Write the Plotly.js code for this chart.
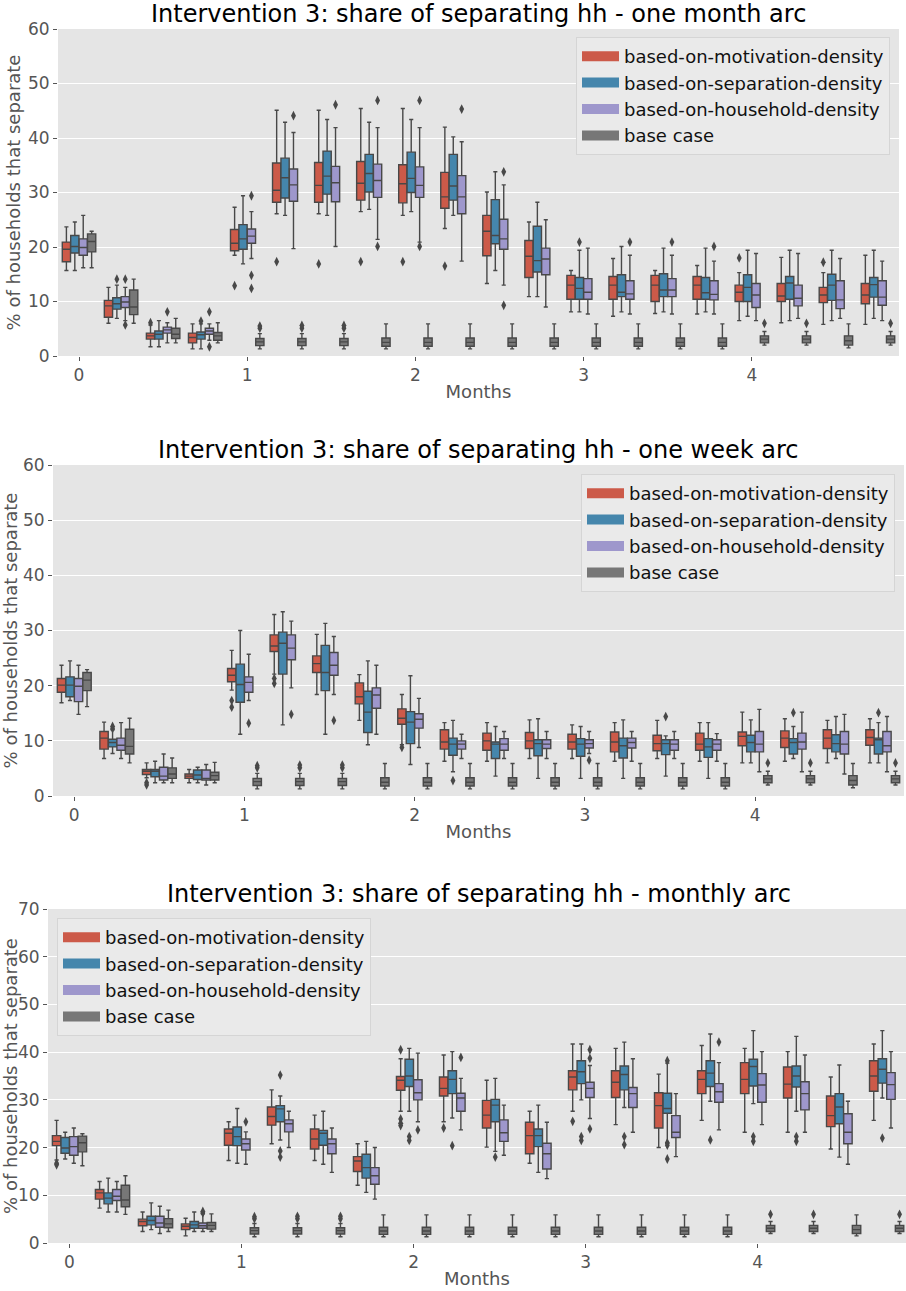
<!DOCTYPE html>
<html><head><meta charset="utf-8">
<script src="https://cdn.plot.ly/plotly-3.0.1.min.js"></script>
<style>html,body{margin:0;padding:0;background:#fff}</style>
</head><body><div id="chart" style="width:906px;height:1291px"></div>
<script>
// ---------- categories / ticks ----------
const steps = [0,1,2,3,4,5,6,7,8,9,10,11,12,13,14,15,16,17,18,19];
const monthTickSteps = [0,4,8,12,16];
const monthTickLabels = ['0','1','2','3','4'];
const seriesNames = ['based-on-motivation-density','based-on-separation-density','based-on-household-density','base case'];
const panelTitles = [
  'Intervention 3: share of separating hh - one month arc',
  'Intervention 3: share of separating hh - one week arc',
  'Intervention 3: share of separating hh - monthly arc'
];

// ---------- base case (shared) ----------
const base_lo  = [16.2,6.0,2.4,2.4,1.3,1.3,1.3,1.3,1.3,1.3,1.3,1.3,1.3,1.3,1.3,1.3,2.0,2.0,1.5,2.0];
const base_q1  = [19.1,7.6,3.2,2.9,1.9,1.9,1.9,1.8,1.8,1.8,1.8,1.8,1.8,1.8,1.8,1.8,2.4,2.4,2.0,2.4];
const base_med = [21.0,9.0,4.0,3.7,2.6,2.6,2.6,2.5,2.5,2.5,2.5,2.5,2.5,2.5,2.5,2.5,3.1,3.1,2.8,3.1];
const base_q3  = [22.4,12.1,5.1,4.3,3.2,3.2,3.2,3.3,3.3,3.3,3.3,3.3,3.3,3.3,3.3,3.3,3.7,3.7,3.7,3.7];
const base_hi  = [22.9,14.1,6.9,6.1,4.1,4.1,4.1,5.9,5.9,5.9,5.9,5.9,5.9,5.9,5.9,5.9,4.5,4.5,5.9,4.5];
const base_out = [[4,5.1],[4,5.5],[5,5.1],[5,5.6],[6,5.1],[6,5.6],[16,6.0],[17,6.0],[19,6.0]];

// ---------- panel 1: one month arc ----------
const p1_mot_lo  = [15.7,6.0,1.7,1.3,18.5,26.1,26.1,26.5,25.8,23.4,13.3,10.9,8.1,7.3,7.8,7.7,6.5,6.1,5.8,5.8];
const p1_mot_q1  = [17.3,7.1,3.1,2.4,19.3,28.2,28.2,28.6,28.1,27.1,18.4,14.4,10.4,10.4,10.0,10.4,10.0,10.0,9.8,9.6];
const p1_mot_med = [19.6,9.2,3.7,3.4,20.7,30.4,31.3,31.7,31.6,29.2,22.9,18.3,13.0,13.0,13.0,13.0,11.7,11.0,11.2,11.2];
const p1_mot_q3  = [20.9,10.2,4.2,4.2,23.2,35.4,35.5,35.7,35.1,33.7,25.8,21.2,14.8,14.6,14.8,14.6,13.0,13.3,12.6,13.3];
const p1_mot_hi  = [23.7,12.6,5.7,5.9,27.3,45.1,45.1,45.4,45.4,42.0,30.1,24.6,15.7,17.9,15.7,16.6,15.3,18.1,15.3,18.5];
const p1_mot_out = [[2,6.1],[4,12.9],[5,17.3],[6,16.9],[7,17.3],[8,17.3],[9,16.5],[16,18.0],[18,17.2]];

const p1_sep_lo  = [15.7,6.9,1.7,1.3,16.9,25.8,25.8,26.9,26.5,25.8,15.7,10.9,8.1,8.1,8.1,8.1,7.3,6.5,6.5,6.9];
const p1_sep_q1  = [18.9,8.6,3.1,3.1,19.6,29.0,29.7,30.1,30.0,28.6,20.6,15.4,10.4,10.9,10.9,10.4,10.0,10.4,10.2,10.8];
const p1_sep_med = [20.1,9.6,4.0,3.9,21.5,32.7,33.0,33.5,32.6,31.2,22.1,17.5,12.4,11.7,12.1,11.6,12.6,13.4,13.0,13.1];
const p1_sep_q3  = [22.1,10.7,4.6,4.4,24.1,36.3,37.6,37.0,37.4,37.0,28.7,23.8,14.4,14.9,15.1,14.4,14.9,14.6,15.0,14.4];
const p1_sep_hi  = [24.6,13.0,6.5,5.9,29.4,42.9,43.4,42.9,43.4,40.2,33.8,28.2,19.4,20.1,19.8,19.8,19.4,19.4,19.4,19.4];
const p1_sep_out = [[1,14.1],[3,6.4],[12,20.9]];

const p1_hh_lo  = [16.2,6.5,2.4,2.9,17.9,19.7,20.1,21.4,20.9,17.4,13.0,9.0,7.7,7.7,7.7,7.7,6.5,6.9,6.9,6.5];
const p1_hh_q1  = [18.5,8.9,4.2,4.0,20.7,28.4,28.3,29.1,29.1,26.1,19.6,14.9,10.4,10.4,10.9,10.3,8.9,9.2,8.7,9.3];
const p1_hh_med = [19.9,9.9,4.8,4.6,22.0,31.4,31.8,32.2,31.3,29.2,21.5,17.8,11.7,11.4,12.1,11.3,11.2,10.6,10.3,10.8];
const p1_hh_q3  = [21.5,10.9,5.3,5.1,23.3,34.3,34.8,35.2,34.7,33.1,25.1,19.8,14.2,13.8,14.2,13.8,13.3,13.0,13.8,13.8];
const p1_hh_hi  = [25.8,12.6,6.1,5.9,26.5,41.0,41.9,41.9,41.9,39.3,31.4,25.0,19.8,18.5,18.5,17.4,18.8,18.8,17.9,17.4];
const p1_hh_out = [[1,14.1],[1,5.7],[2,8.1],[3,8.1],[3,1.7],[4,29.4],[4,14.8],[4,12.4],[5,44.1],[6,46.1],[7,46.9],[7,20.1],[8,46.9],[8,20.1],[9,45.3],[10,33.8],[10,9.3],[13,20.9],[14,20.9],[15,20.1]];

// ---------- panel 2: one week arc ----------
const p2_mot_lo  = [16.9,6.8,3.3,2.4,19.2,22.1,18.4,13.7,9.3,6.3,6.3,6.8,6.8,6.3,6.8,6.3,6.0,6.3,6.0,6.0];
const p2_mot_q1  = [18.8,8.5,3.9,3.2,20.7,26.2,22.4,16.7,13.0,8.5,8.3,8.6,8.5,8.0,8.2,8.3,9.1,8.8,8.6,9.2];
const p2_mot_med = [20.1,10.5,4.5,3.6,21.9,27.2,24.0,18.0,14.1,9.8,10.0,10.0,9.8,9.8,9.5,9.4,10.8,10.5,10.5,10.6];
const p2_mot_q3  = [21.3,11.7,4.8,4.0,23.1,29.2,25.4,20.5,15.8,12.0,11.4,11.5,11.2,11.6,11.0,11.4,11.6,11.8,12.0,12.0];
const p2_mot_hi  = [23.7,13.4,6.0,4.8,26.4,32.9,29.3,22.0,18.4,13.3,13.3,13.8,12.9,13.3,13.7,13.3,15.2,14.0,13.7,14.0];
const p2_mot_out = [[2,2.4],[2,2.0],[4,17.3],[4,16.1],[5,21.3],[5,20.4],[8,8.8]];

const p2_sep_lo  = [17.3,7.7,2.4,2.4,11.2,12.9,11.2,9.3,5.7,4.4,3.6,3.2,3.2,3.2,3.6,3.2,6.0,6.8,6.8,6.0];
const p2_sep_q1  = [18.0,8.9,3.5,3.0,17.0,22.1,19.1,11.5,9.5,7.4,6.8,7.3,7.2,6.9,7.5,7.0,8.0,7.6,8.0,7.6];
const p2_sep_med = [20.1,9.7,4.5,3.8,20.2,27.7,22.4,15.2,13.4,9.4,9.4,9.5,9.4,9.1,9.5,8.9,9.7,9.7,9.5,10.2];
const p2_sep_q3  = [21.6,10.3,4.8,4.7,23.9,29.7,27.3,19.0,15.3,10.5,9.8,10.2,10.4,10.5,10.2,10.4,11.0,10.4,11.1,10.5];
const p2_sep_hi  = [24.5,12.0,6.3,5.2,30.0,33.4,31.3,24.5,21.8,13.7,12.6,14.0,12.6,13.8,10.9,13.3,13.8,12.6,14.4,13.3];
const p2_sep_out = [[1,12.6],[1,12.2],[9,2.8],[14,14.4],[17,15.1],[19,15.1]];

const p2_hh_lo  = [14.8,6.8,2.4,2.0,17.3,19.6,18.4,11.2,8.8,6.8,6.8,6.8,7.7,6.3,6.8,6.3,4.4,4.4,4.0,4.4];
const p2_hh_q1  = [17.1,8.3,2.9,2.9,18.8,24.7,21.9,15.9,12.3,8.5,8.3,8.6,8.7,8.7,8.3,8.3,8.0,8.5,7.6,8.0];
const p2_hh_med = [19.9,9.2,3.6,3.2,20.6,26.8,23.7,18.3,13.9,9.4,9.4,9.4,9.5,9.7,9.4,9.4,9.4,9.8,9.4,9.1];
const p2_hh_q3  = [21.3,10.5,5.2,4.7,21.6,29.2,26.0,19.6,14.9,10.0,10.4,10.2,10.2,10.5,10.2,10.2,11.7,11.4,11.7,11.7];
const p2_hh_hi  = [23.7,13.3,7.6,5.7,25.7,31.7,28.9,23.7,17.7,11.2,11.7,11.7,11.7,11.7,11.7,11.3,15.7,15.2,14.8,14.4];
const p2_hh_out = [[4,13.2],[5,14.8],[6,13.7],[12,6.5]];

// ---------- panel 3: monthly arc ----------
const p3_mot_lo  = [17.4,7.3,2.4,1.5,17.3,20.8,17.3,12.1,27.6,25.4,20.1,16.7,27.6,24.8,20.0,25.7,23.2,23.2,19.7,25.7];
const p3_mot_q1  = [20.4,9.2,3.6,2.8,20.5,24.7,19.7,15.0,32.0,30.8,24.1,18.7,32.1,30.5,24.1,31.3,31.3,30.4,24.4,31.8];
const p3_mot_med = [21.3,10.5,4.5,3.5,23.0,26.5,21.8,17.2,34.1,32.4,26.8,22.5,34.8,33.7,28.8,34.3,34.3,33.3,26.7,35.0];
const p3_mot_q3  = [22.5,11.2,5.0,4.0,23.9,28.5,23.9,18.1,34.9,34.8,29.9,25.3,36.1,36.1,31.5,36.1,37.8,36.9,30.8,38.2];
const p3_mot_hi  = [25.7,12.9,6.5,5.2,25.4,32.1,26.8,20.8,38.6,39.4,34.1,27.6,41.7,40.8,35.4,41.4,40.8,40.1,34.8,41.7];
const p3_mot_out = [[0,16.7],[0,16.4],[8,40.5],[8,26.0],[8,25.1],[8,24.6],[9,24.1],[12,25.5]];

const p3_sep_lo  = [17.6,6.5,2.8,2.4,16.7,21.6,16.5,10.6,27.6,26.2,19.2,14.8,30.0,28.4,20.9,29.7,29.2,27.6,18.0,30.4];
const p3_sep_q1  = [18.8,8.2,3.8,3.1,20.4,25.4,20.5,13.6,32.8,31.3,25.4,20.2,33.4,32.1,27.2,32.8,32.9,32.7,25.0,33.5];
const p3_sep_med = [19.9,9.4,4.7,3.8,22.3,28.1,23.0,15.8,35.0,34.3,28.9,22.5,35.9,35.3,28.2,35.6,37.0,35.0,28.5,36.4];
const p3_sep_q3  = [22.1,10.5,5.6,4.5,24.3,28.8,23.6,18.6,38.5,36.1,30.1,23.9,38.2,37.1,31.4,38.2,38.5,37.1,31.3,38.6];
const p3_sep_hi  = [23.2,13.6,8.4,6.5,28.2,30.8,27.6,21.3,40.8,40.1,34.5,28.9,41.7,42.1,37.7,43.8,44.5,43.3,37.3,44.5];
const p3_sep_out = [[5,19.3],[5,18.0],[5,35.2],[8,22.3],[8,21.5],[9,20.4],[10,18.0],[12,22.3],[12,21.5],[13,22.3],[13,20.6],[14,38.2],[14,21.0],[14,20.5],[14,17.6],[15,21.6],[16,22.3],[16,21.3],[17,22.3],[17,21.3],[19,22.0]];

const p3_hh_lo  = [16.7,6.5,2.0,2.4,16.5,20.0,14.8,9.2,25.4,23.7,18.4,13.5,26.1,23.2,18.1,23.7,24.8,23.2,16.5,24.1];
const p3_hh_q1  = [18.4,8.9,3.3,3.1,19.5,23.3,18.7,12.3,30.0,27.6,21.3,15.5,30.5,28.4,22.1,29.5,29.5,27.9,20.8,30.1];
const p3_hh_med = [20.2,9.8,4.2,3.6,20.8,25.0,20.8,14.1,31.5,30.4,23.1,18.7,32.4,31.3,23.2,31.7,33.1,31.3,23.2,33.2];
const p3_hh_q3  = [22.3,11.2,5.6,4.2,21.8,25.8,21.8,15.8,34.2,31.4,25.8,20.9,33.7,32.6,26.7,33.4,35.5,33.8,27.1,35.7];
const p3_hh_hi  = [24.1,12.9,7.7,6.1,23.3,27.6,24.1,20.0,39.8,34.5,28.9,25.3,37.2,38.6,31.3,37.8,40.1,39.4,29.7,40.1];
const p3_hh_out = [[3,6.6],[3,6.3],[4,25.4],[8,23.7],[9,38.9],[12,40.5],[12,38.7],[12,23.9],[15,42.1]];

// ---------- styling ----------
const FONT = 'DejaVu Sans, Verdana, sans-serif';
const fills = ['#CC5A49','#4586AC','#9E97CC','#777777'];
const edge = '#484848';
const hueOffsets = [-0.3,-0.1,0.1,0.3];
const boxWidth = 0.196;

const baseSeries = {lo:base_lo,q1:base_q1,med:base_med,q3:base_q3,hi:base_hi,out:base_out};
const panels = [
  [{lo:p1_mot_lo,q1:p1_mot_q1,med:p1_mot_med,q3:p1_mot_q3,hi:p1_mot_hi,out:p1_mot_out},
   {lo:p1_sep_lo,q1:p1_sep_q1,med:p1_sep_med,q3:p1_sep_q3,hi:p1_sep_hi,out:p1_sep_out},
   {lo:p1_hh_lo,q1:p1_hh_q1,med:p1_hh_med,q3:p1_hh_q3,hi:p1_hh_hi,out:p1_hh_out}, baseSeries],
  [{lo:p2_mot_lo,q1:p2_mot_q1,med:p2_mot_med,q3:p2_mot_q3,hi:p2_mot_hi,out:p2_mot_out},
   {lo:p2_sep_lo,q1:p2_sep_q1,med:p2_sep_med,q3:p2_sep_q3,hi:p2_sep_hi,out:p2_sep_out},
   {lo:p2_hh_lo,q1:p2_hh_q1,med:p2_hh_med,q3:p2_hh_q3,hi:p2_hh_hi,out:p2_hh_out}, baseSeries],
  [{lo:p3_mot_lo,q1:p3_mot_q1,med:p3_mot_med,q3:p3_mot_q3,hi:p3_mot_hi,out:p3_mot_out},
   {lo:p3_sep_lo,q1:p3_sep_q1,med:p3_sep_med,q3:p3_sep_q3,hi:p3_sep_hi,out:p3_sep_out},
   {lo:p3_hh_lo,q1:p3_hh_q1,med:p3_hh_med,q3:p3_hh_q3,hi:p3_hh_hi,out:p3_hh_out}, baseSeries]
];

const W = 906, H = 1291;
// plot-area pixel boxes [left,right,top,bottom]
const boxes = [[58,899,29,356],[53,904,465,796],[48,906,909,1243]];
const yMax = [60,60,70];
const xRanges = [[-0.5,19.5],[-0.5,19.5],[-0.5,19.45]];
const legendNames = ['legend','legend2','legend3'];

const traces = [];
panels.forEach((ser, p) => {
  const xa = p === 0 ? 'x' : 'x' + (p+1);
  const ya = p === 0 ? 'y' : 'y' + (p+1);
  ser.forEach((s, k) => {
    traces.push({
      type:'box', xaxis:xa, yaxis:ya, name:seriesNames[k], showlegend:false,
      x: steps.map(i => i + hueOffsets[k]),
      q1:s.q1, median:s.med, q3:s.q3, lowerfence:s.lo, upperfence:s.hi,
      width: boxWidth, whiskerwidth:0.5, boxpoints:false,
      fillcolor: fills[k], line:{color:edge, width:1.4}, hoverinfo:'skip'
    });
    traces.push({
      type:'scatter', mode:'markers', xaxis:xa, yaxis:ya, showlegend:false, hoverinfo:'skip',
      x: s.out.map(o => o[0] + hueOffsets[k]), y: s.out.map(o => o[1]),
      marker:{symbol:'diamond-tall', size:7, color:edge, line:{width:0}}
    });
  });
  seriesNames.forEach((nm, k) => {
    traces.push({
      type:'scatter', mode:'lines', xaxis:xa, yaxis:ya, x:[null], y:[null],
      name:nm, legend:legendNames[p], showlegend:true,
      line:{color:fills[k], width:13}
    });
  });
});

const layout = {
  width:W, height:H, margin:{l:0,r:0,t:0,b:0},
  paper_bgcolor:'#ffffff', plot_bgcolor:'#E5E5E5',
  font:{family:FONT, color:'#555555', size:17},
  showlegend:true, boxmode:'overlay',
  annotations:[], hovermode:false
};
boxes.forEach((b, p) => {
  const sx = p === 0 ? '' : String(p+1);
  layout['xaxis'+sx] = {
    domain:[b[0]/W, Math.min(1,b[1]/W)], anchor:'y'+sx, range:xRanges[p],
    tickvals:monthTickSteps, ticktext:monthTickLabels,
    showgrid:false, zeroline:false, showline:false,
    ticks:'outside', ticklen:4, tickcolor:'#555555', tickwidth:1,
    tickfont:{family:FONT, size:17, color:'#555555'},
    title:{text:'Months', font:{family:FONT, size:18, color:'#555555'}, standoff:0}
  };
  layout['yaxis'+sx] = {
    domain:[1-b[3]/H, 1-b[2]/H], anchor:'x'+sx, range:[0,yMax[p]], dtick:10,
    showgrid:true, gridcolor:'#ffffff', gridwidth:1, zeroline:false, showline:false,
    ticks:'outside', ticklen:4, tickcolor:'#555555', tickwidth:1,
    tickfont:{family:FONT, size:17, color:'#555555'},
    title:{text:'% of households that separate', font:{family:FONT, size:18, color:'#555555'}, standoff:2}
  };
  layout.annotations.push({
    xref:'paper', yref:'paper', x:((b[0]+ (p===2?910:b[1]))/2)/W, y:1-(b[2]-15)/H,
    xanchor:'center', yanchor:'middle', showarrow:false,
    text:panelTitles[p], font:{family:FONT, size:24, color:'#000000'}
  });
});
const legBase = {bgcolor:'#EAEAEA', bordercolor:'#D5D5D5', borderwidth:1,
  font:{family:FONT, size:18, color:'#111111'}, itemwidth:37, traceorder:'normal', tracegroupgap:0};
layout.legend  = Object.assign({}, legBase, {x:890/W, y:1-37/H, xanchor:'right', yanchor:'top'});
layout.legend2 = Object.assign({}, legBase, {x:895/W, y:1-474/H, xanchor:'right', yanchor:'top'});
layout.legend3 = Object.assign({}, legBase, {x:57/W, y:1-918/H, xanchor:'left', yanchor:'top'});

Plotly.newPlot('chart', traces, layout, {staticPlot:true, displayModeBar:false});
</script></body></html>
